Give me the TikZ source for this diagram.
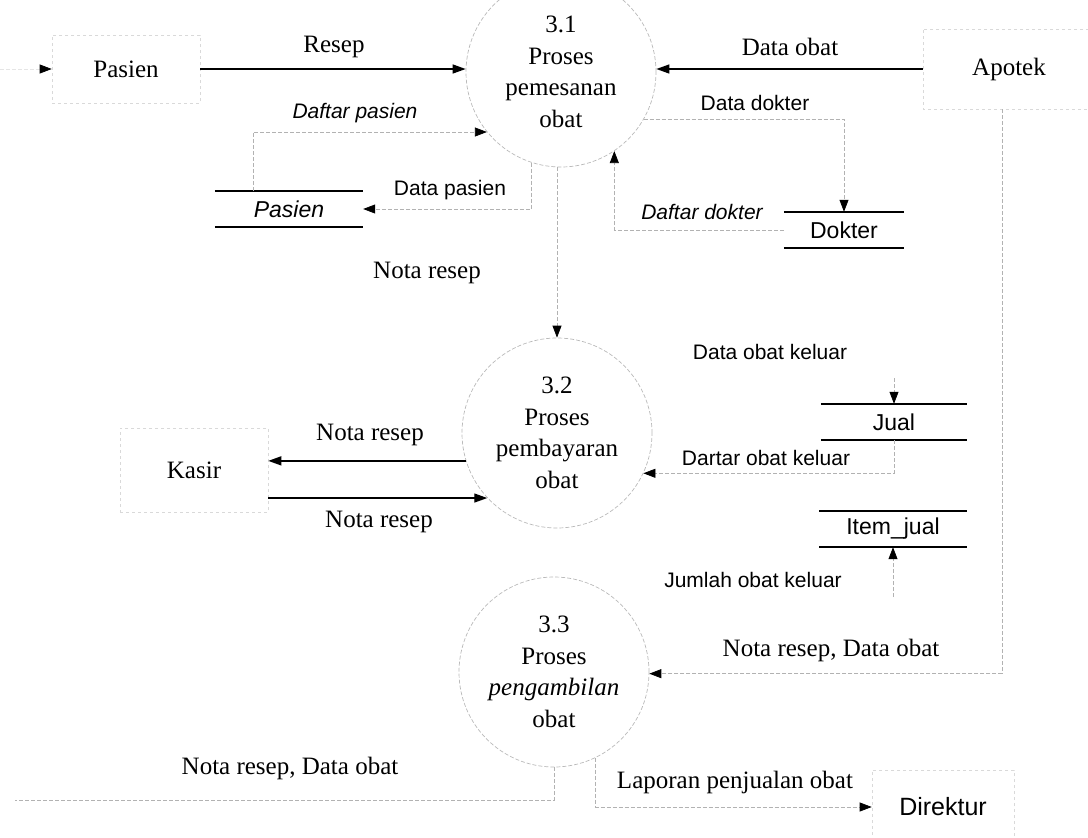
\documentclass[tikz,border=0pt]{standalone}
\usepackage{fontspec}
\setmainfont{Liberation Serif}
\setsansfont{Liberation Sans}
\usetikzlibrary{arrows.meta}

\begin{document}
\begin{tikzpicture}[x=1pt,y=-1pt,
  proc/.style={circle, draw=gray!55, dash pattern=on 4pt off 2pt, line width=0.7pt,
    minimum size=190pt, inner sep=0pt, align=center, font=\fontsize{25}{31.5}\selectfont},
  entline/.style={draw=gray!30, dash pattern=on 3pt off 3pt, line width=0.6pt},
  ent/.style={entline, inner sep=0pt, font=\fontsize{25}{30}\selectfont},
  storeline/.style={draw=black, line width=2pt, solid},
  store/.style={inner sep=0pt, minimum height=36pt, font=\sffamily\fontsize{23}{28}\selectfont,
    append after command={(\tikzlastnode.north west) edge[storeline] (\tikzlastnode.north east)
      (\tikzlastnode.south west) edge[storeline] (\tikzlastnode.south east)}},
  solidflow/.style={draw=black, line width=1.4pt, -{Triangle[length=13pt,width=9pt]}},
  plainflow/.style={draw=gray!60, line width=0.7pt, dash pattern=on 4pt off 2pt},
  flow/.style={plainflow, -{Triangle[length=12pt,width=9pt,color=black]}},
  serl/.style={inner sep=0pt, font=\fontsize{25}{30}\selectfont},
  sanl/.style={inner sep=0pt, font=\sffamily\fontsize{21}{25}\selectfont},
  sanli/.style={inner sep=0pt, font=\sffamily\itshape\fontsize{21}{25}\selectfont}]

\useasboundingbox (0,0) rectangle (1088,838);

% external entities
\node[ent, minimum width=148pt, minimum height=68pt] (pe) at (126,69) {Pasien};
\node[inner sep=0pt, minimum width=172pt, minimum height=80pt, font=\fontsize{25}{30}\selectfont] (apo) at (1009,69) {Apotek};
\draw[entline] ([xshift=30pt]apo.north east) -- (apo.north west) -- (apo.south west) -- ([xshift=30pt]apo.south east);
\node[ent, minimum width=148pt, minimum height=84pt] (kas) at (194,470) {Kasir};
\node[ent, minimum width=142pt, minimum height=74pt, font=\sffamily\fontsize{25}{30}\selectfont] (dir) at (943,807) {Direktur};

% processes
\node[proc] (c31) at (561,72) {3.1\\Proses\\pemesanan\\obat};
\node[proc] (c32) at (557,433) {3.2\\Proses\\pembayaran\\obat};
\node[proc] (c33) at (554,672) {3.3\\Proses\\\textit{pengambilan}\\obat};

% data stores
\node[store, minimum width=148pt] (spas) at (289,209) {\itshape Pasien};
\node[store, minimum width=120pt] (sdok) at (844,230) {Dokter};
\node[store, minimum width=146pt] (sjual) at (894,422) {Jual};
\node[store, minimum width=147pt] (sitem) at (893,529) {Item\_jual};

% incoming stub to the Pasien entity
\coordinate (pin) at (0,69);
\draw[flow, draw=gray!20] (pin) -- (pe.west);

% process 3.1 flows
\draw[solidflow] (pe.east) -- (pe.east -| c31.west);
\node[serl] at (334,47) {Resep};

\draw[flow] ([xshift=-36pt]spas.north) |- (c31.219);
\node[sanli] at (355,113) {Daftar pasien};

\draw[flow] (c31.252) |- (spas.east);
\node[sanl] at (450,190) {Data pasien};

\draw[solidflow] (apo.west) -- (apo.west -| c31.east);
\node[serl] at (790,47) {Data obat};

\draw[flow] (c31.-30) -| (sdok.north);
\node[sanl] at (755,103) {Data dokter};

\draw[flow] (sdok.west) -| (c31.-56);
\node[sanli] at (702,212) {Daftar dokter};

\draw[flow] (c31.south -| c32.north) -- (c32.north);
\node[serl] at (427,273) {Nota resep};

% process 3.2 flows
\draw[solidflow] (c32.197) -- (c32.197 -| kas.east);
\node[serl] at (370,435) {Nota resep};
\draw[solidflow] (c32.223 -| kas.east) -- (c32.223);
\node[serl] at (379,522) {Nota resep};

\coordinate (jin) at (894,378);
\draw[flow] (jin) -- (sjual.north);
\node[sanl] at (770,352) {Data obat keluar};

\draw[flow] (sjual.south) |- (c32.-25);
\node[sanl] at (766,458) {Dartar obat keluar};

\coordinate (iin) at (893,597);
\draw[flow] (iin) -- (sitem.south);
\node[sanl] at (753,580) {Jumlah obat keluar};

% process 3.3 flows
\draw[flow] ([xshift=-7pt]apo.south) |- (c33.-1);
\node[serl] at (831,650) {Nota resep, Data obat};

\coordinate (outl) at (15,800);
\draw[plainflow] (c33.south) |- (outl);
\node[serl] at (290,768) {Nota resep, Data obat};

\draw[flow] (c33.-64) |- (dir.west);
\node[serl] at (735,782) {Laporan penjualan obat};

\end{tikzpicture}
\end{document}
